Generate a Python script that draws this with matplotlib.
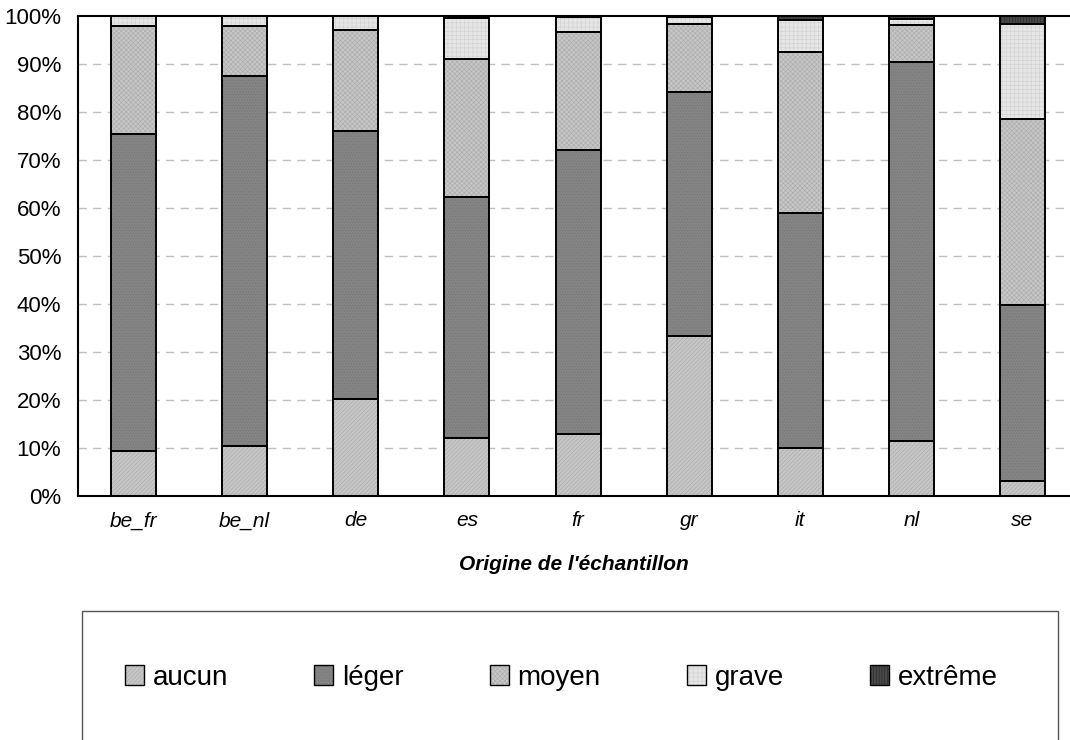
import matplotlib
matplotlib.use("Agg")
import matplotlib.pyplot as plt
from matplotlib.patches import Patch, Rectangle
import numpy as np

plt.rcParams['font.family'] = ['Liberation Sans', 'DejaVu Sans']
plt.rcParams['hatch.linewidth'] = 0.45

categories = ["be_fr", "be_nl", "de", "es", "fr", "gr", "it", "nl", "se"]
series_names = ["aucun", "léger", "moyen", "grave", "extrême"]
aucun   = [9.3, 10.5, 20.3, 12.0, 13.0, 33.3, 10.0, 11.5, 3.1]
leger   = [66.2, 77.1, 55.7, 50.2, 59.0, 50.8, 49.0, 78.9, 36.7]
moyen   = [22.5, 10.4, 21.0, 28.8, 24.7, 14.2, 33.4, 7.7, 38.7]
grave   = [2.0, 2.0, 3.0, 8.5, 3.0, 1.4, 6.7, 1.2, 19.8]
extreme = [0.0, 0.0, 0.0, 0.5, 0.3, 0.3, 0.9, 0.7, 1.7]
yticklabels = ["0%", "10%", "20%", "30%", "40%", "50%", "60%", "70%", "80%", "90%", "100%"]
xlabel = "Origine de l'échantillon"

series = [aucun, leger, moyen, grave, extreme]
styles = [
    dict(face="#c6c6c6", hc="#aaaaaa", hatch="////////"),
    dict(face="#848484", hc="#767676", hatch="......"),
    dict(face="#c6c6c6", hc="#adadad", hatch="xxxxxxx"),
    dict(face="#e6e6e6", hc="#d2d2d2", hatch="++++"),
    dict(face="#484848", hc="#2a2a2a", hatch="||||||"),
]

W, H = 1070, 740
fig = plt.figure(figsize=(W / 100, H / 100), dpi=100)
ax = fig.add_axes([78 / W, (H - 496) / H, 1000 / W, 480 / H])

x = np.arange(len(categories))
bw = 0.405
bottom = np.zeros(len(categories))
for vals, st in zip(series, styles):
    v = np.array(vals, dtype=float)
    ax.bar(x, v, bw, bottom=bottom, color=st["face"], edgecolor=st["hc"],
           hatch=st["hatch"], linewidth=0, zorder=2)
    ax.bar(x, v, bw, bottom=bottom, fill=False, edgecolor="black",
           linewidth=1.4, zorder=3)
    bottom += v

ax.set_xlim(-0.5, len(categories) - 0.5)
ax.set_ylim(0, 100)
ax.set_yticks(np.arange(0, 101, 10))
ax.set_yticklabels(yticklabels, fontsize=16)
ax.set_xticks(x)
ax.set_xticklabels(categories, fontsize=15, style="italic")
ax.tick_params(axis="x", length=0, pad=11)
ax.tick_params(axis="y", length=0, pad=12)

for yv in range(10, 100, 10):
    ax.axhline(yv, color="#c0c0c0", linewidth=1.0, linestyle=(0, (6, 4.5)), zorder=1)

for s in ["left", "bottom", "top"]:
    ax.spines[s].set_color("black")
    ax.spines[s].set_linewidth(1.5)
ax.spines["right"].set_visible(False)

fig.text(574 / W, 1 - 565 / H, xlabel, ha="center", va="center",
         fontsize=15, fontweight="bold", style="italic")

# legend frame
fig.patches.append(Rectangle((82 / W, -0.02), (1058 - 82) / W, (H - 611) / H + 0.02,
                             transform=fig.transFigure, fill=False,
                             edgecolor="#555555", linewidth=1.0))

handles = [(Patch(facecolor=st["face"], edgecolor=st["hc"], hatch=st["hatch"], linewidth=0),
            Patch(fill=False, edgecolor="black", linewidth=1.0))
           for st in styles]
fig.legend(handles, series_names, loc="center left",
           bbox_to_anchor=(125 / W, 1 - 678 / H), ncol=5, frameon=False,
           fontsize=20, handlelength=0.68, handleheight=0.72,
           handletextpad=0.32, columnspacing=3.1, borderpad=0, borderaxespad=0)

fig.savefig("out.png", dpi=100)
